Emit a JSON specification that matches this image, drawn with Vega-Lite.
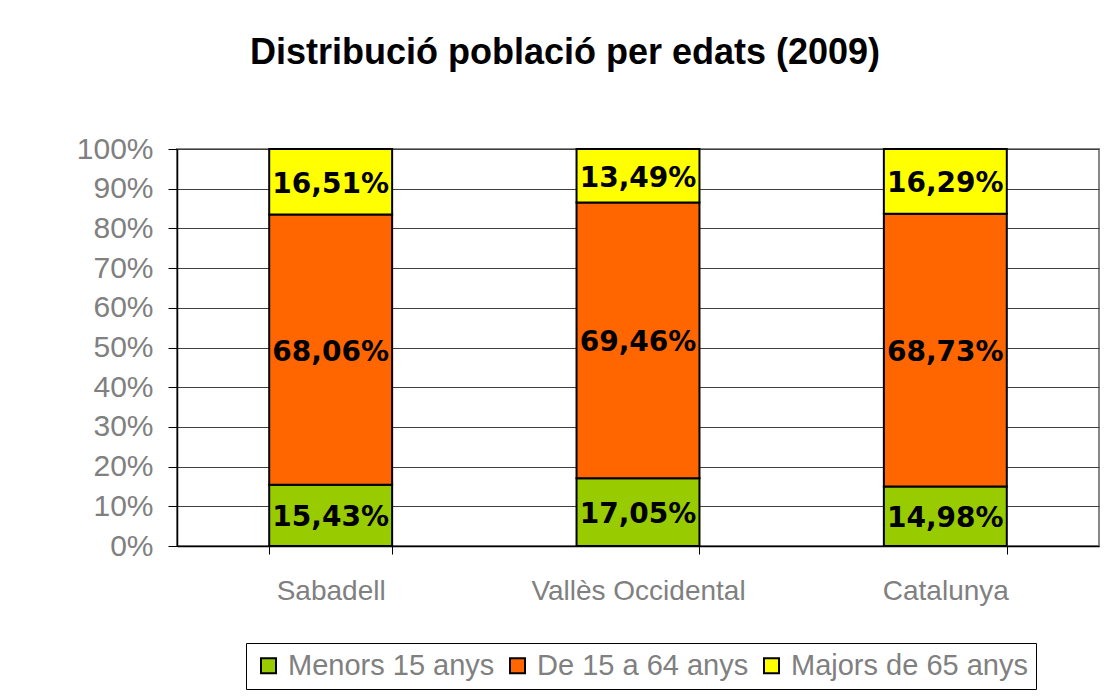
{
  "$schema": "https://vega.github.io/schema/vega-lite/v6.json",
  "width": 922,
  "height": 397,
  "autosize": {"type": "none"},
  "padding": {"left": 177, "top": 149, "right": 14, "bottom": 153},
  "background": "white",
  "title": {
    "text": "Distribució població per edats (2009)",
    "font": "Liberation Sans",
    "fontSize": 36,
    "fontWeight": "bold",
    "color": "black",
    "anchor": "middle",
    "dx": -73,
    "offset": 62
  },
  "data": {
    "values": [
      {"region": "Sabadell", "age": "Menors 15 anys", "value": 0.1543},
      {"region": "Sabadell", "age": "De 15 a 64 anys", "value": 0.6806},
      {"region": "Sabadell", "age": "Majors de 65 anys", "value": 0.1651},
      {"region": "Vallès Occidental", "age": "Menors 15 anys", "value": 0.1705},
      {"region": "Vallès Occidental", "age": "De 15 a 64 anys", "value": 0.6946},
      {"region": "Vallès Occidental", "age": "Majors de 65 anys", "value": 0.1349},
      {"region": "Catalunya", "age": "Menors 15 anys", "value": 0.1498},
      {"region": "Catalunya", "age": "De 15 a 64 anys", "value": 0.6873},
      {"region": "Catalunya", "age": "Majors de 65 anys", "value": 0.1629}
    ]
  },
  "transform": [
    {"calculate": "indexof(['Menors 15 anys','De 15 a 64 anys','Majors de 65 anys'], datum.age)", "as": "o"},
    {"stack": "value", "groupby": ["region"], "sort": [{"field": "o", "order": "ascending"}], "as": ["y0", "y1"]},
    {"calculate": "(datum.y0 + datum.y1) / 2", "as": "mid"}
  ],
  "encoding": {
    "x": {
      "field": "region",
      "type": "nominal",
      "sort": ["Sabadell", "Vallès Occidental", "Catalunya"],
      "scale": {"paddingInner": 0.6, "paddingOuter": 0.3},
      "axis": {
        "title": null,
        "labelAngle": 0,
        "labelFont": "Liberation Sans",
        "labelFontSize": 28,
        "labelColor": "#808080",
        "labelPadding": 23,
        "labelLimit": 400,
        "tickBand": "extent",
        "tickSize": 8,
        "tickColor": "black",
        "domainColor": "black",
        "domainWidth": 1.5,
        "grid": false
      }
    }
  },
  "layer": [
    {
      "mark": {"type": "bar", "stroke": "black", "strokeWidth": 2},
      "encoding": {
        "y": {
          "field": "y0",
          "type": "quantitative",
          "scale": {"domain": [0, 1]},
          "axis": {
            "title": null,
            "values": [0, 0.1, 0.2, 0.3, 0.4, 0.5, 0.6, 0.7, 0.8, 0.9, 1],
            "format": ".0%",
            "labelOverlap": false,
            "labelFont": "Liberation Sans",
            "labelFontSize": 30,
            "labelColor": "#808080",
            "labelPadding": 15,
            "tickSize": 9,
            "tickColor": "black",
            "domainColor": "black",
            "domainWidth": 1.5,
            "grid": true,
            "gridColor": "#404040",
            "gridWidth": 1
          }
        },
        "y2": {"field": "y1"},
        "color": {
          "field": "age",
          "type": "nominal",
          "scale": {
            "domain": ["Menors 15 anys", "De 15 a 64 anys", "Majors de 65 anys"],
            "range": ["#99CC00", "#FF6600", "#FFFF00"]
          },
          "legend": {
            "title": null,
            "orient": "none",
            "direction": "horizontal",
            "legendX": 69,
            "legendY": 494,
            "symbolType": "square",
            "symbolSize": 225,
            "symbolStrokeColor": "black",
            "symbolStrokeWidth": 2,
            "symbolOpacity": 1,
            "labelFont": "Liberation Sans",
            "labelFontSize": 29,
            "labelColor": "#808080",
            "labelOffset": 5,
            "columnPadding": 8,
            "padding": 8,
            "strokeColor": "black",
            "labelLimit": 400
          }
        }
      }
    },
    {
      "mark": {"type": "text", "font": "DejaVu Sans", "fontWeight": "bold", "fontSize": 28, "color": "black", "baseline": "middle", "dy": 3},
      "encoding": {
        "y": {
          "field": "mid",
          "type": "quantitative",
          "axis": {
            "title": null,
            "values": [0, 0.1, 0.2, 0.3, 0.4, 0.5, 0.6, 0.7, 0.8, 0.9, 1],
            "format": ".0%",
            "labelOverlap": false,
            "labelFont": "Liberation Sans",
            "labelFontSize": 30,
            "labelColor": "#808080",
            "labelPadding": 15,
            "tickSize": 9,
            "tickColor": "black",
            "domainColor": "black",
            "domainWidth": 1.5,
            "grid": true,
            "gridColor": "#404040",
            "gridWidth": 1
          }
        },
        "text": {"field": "value", "type": "quantitative", "format": ".2%"}
      }
    }
  ],
  "config": {
    "locale": {
      "number": {"decimal": ",", "thousands": ".", "grouping": [3], "currency": ["", " €"]}
    },
    "view": {"stroke": "#888888", "strokeWidth": 2}
  }
}
